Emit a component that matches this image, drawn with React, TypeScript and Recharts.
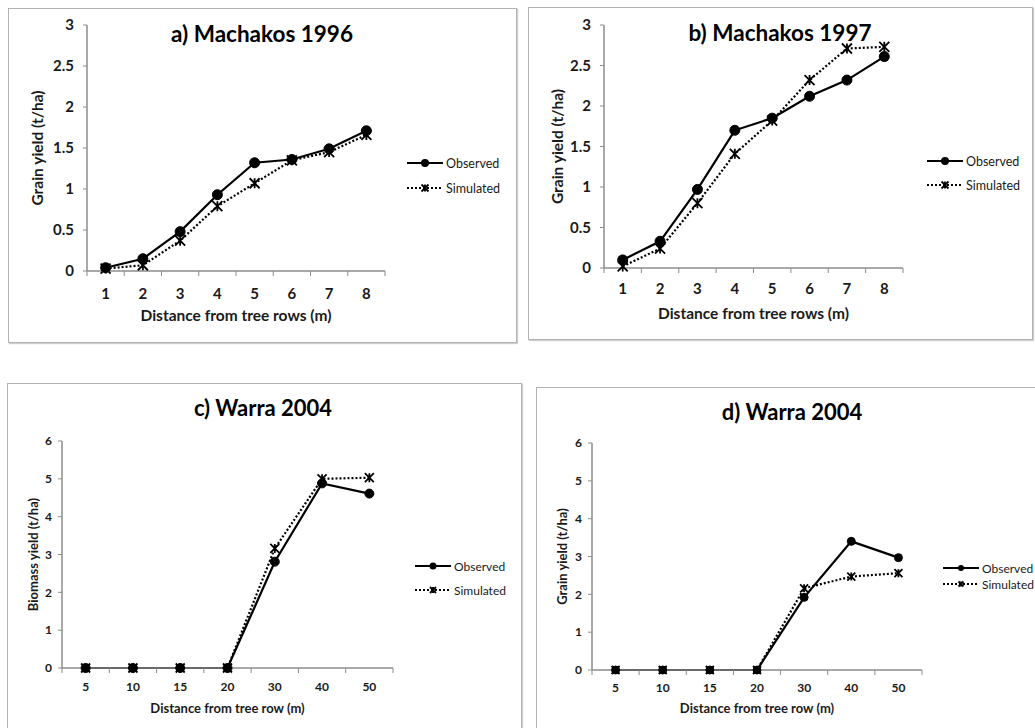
import { LineChart, Line, XAxis, YAxis } from 'recharts';

// distances (category labels)
const rowDistances = ['1', '2', '3', '4', '5', '6', '7', '8'];
const warraDistances = ['5', '10', '15', '20', '30', '40', '50'];

// yields, t/ha
const observed1996 = [0.04, 0.15, 0.48, 0.93, 1.32, 1.36, 1.49, 1.71];
const simulated1996 = [0.03, 0.07, 0.37, 0.79, 1.07, 1.35, 1.45, 1.66];
const observed1997 = [0.1, 0.33, 0.97, 1.7, 1.85, 2.12, 2.32, 2.61];
const simulated1997 = [0.02, 0.24, 0.8, 1.41, 1.82, 2.32, 2.71, 2.73];
const observedBiomass = [0, 0, 0, 0, 2.81, 4.88, 4.61];
const simulatedBiomass = [0, 0, 0, 0, 3.16, 5.0, 5.03];
const observedGrain = [0, 0, 0, 0, 1.92, 3.4, 2.97];
const simulatedGrain = [0, 0, 0, 0, 2.16, 2.47, 2.56];

const grainTicks = [0, 0.5, 1, 1.5, 2, 2.5, 3];
const warraTicks = [0, 1, 2, 3, 4, 5, 6];

const FONT = 'Lato, "Open Sans", sans-serif';
const AXIS = '#8c8c8c';
const INK = '#1a1a1a';

type Box = { left: number; top: number; width: number; height: number };
type Plot = { left: number; top: number; right: number; bottom: number };

type PanelProps = {
  title: string;
  titleAt: [number, number];
  titleSize: number;
  labels: string[];
  observed: number[];
  simulated: number[];
  yTicks: number[];
  yTitle: string;
  xTitle: string;
  box: Box;
  plot: Plot;
  tickSize: number;
  axisTitleSize: number;
  yTickGap: number;
  xTickGap: number;
  xTitleGap: number;
  yTitleGap: number;
  dotR: number;
  legendAt: [number, number];
  legendGap: number;
  legendSize: number;
};

function starPath(cx: number, cy: number, s: number) {
  return `M${cx - s},${cy - s}L${cx + s},${cy + s}M${cx + s},${cy - s}L${cx - s},${cy + s}M${cx},${cy - s}L${cx},${cy + s}`;
}

function LegendIcon({ dotted, r }: { dotted: boolean; r: number }) {
  return (
    <svg width={38} height={12} style={{ display: 'block' }}>
      <line x1={1} y1={6} x2={37} y2={6} stroke="#000" strokeWidth={2} strokeDasharray={dotted ? '2 2' : undefined} />
      {dotted ? (
        <path d={starPath(19, 6, r - 1)} stroke="#000" strokeWidth={1.8} fill="none" />
      ) : (
        <circle cx={19} cy={6} r={r - 0.5} fill="#000" />
      )}
    </svg>
  );
}

function Panel(p: PanelProps) {
  const data = p.labels.map((label, i) => ({
    x: i + 1,
    label,
    observed: p.observed[i],
    simulated: p.simulated[i],
  }));
  const n = p.labels.length;
  // half positions carry the tick marks, whole positions carry the labels
  const xTicks: number[] = [];
  for (let k = 0; k <= n; k++) {
    xTicks.push(k + 0.5);
    if (k < n) xTicks.push(k + 1);
  }
  const { box, plot } = p;
  const chartH = Math.min(box.height, 728 - box.top);

  const XTick = (props: any) => {
    const { x, y, payload } = props;
    const v = payload.value as number;
    if (Number.isInteger(v)) {
      return (
        <text x={x} y={y + p.xTickGap} textAnchor="middle" dominantBaseline="central"
          fontSize={p.tickSize} fontWeight={700} fontFamily={FONT} fill={INK}>
          {p.labels[v - 1]}
        </text>
      );
    }
    return <line x1={x} y1={y} x2={x} y2={y + 5} stroke={AXIS} strokeWidth={1} />;
  };

  const xTitle = (props: any) => {
    const vb = props.viewBox;
    return (
      <text x={vb.x + vb.width / 2} y={vb.y + p.xTitleGap} textAnchor="middle" dominantBaseline="central"
        fontSize={p.axisTitleSize} fontWeight={700} fontFamily={FONT} fill={INK}>
        {p.xTitle}
      </text>
    );
  };

  const yTitle = (props: any) => {
    const vb = props.viewBox;
    const cx = vb.x + vb.width - p.yTitleGap;
    const cy = vb.y + vb.height / 2;
    return (
      <text x={cx} y={cy} transform={`rotate(-90 ${cx} ${cy})`} textAnchor="middle" dominantBaseline="central"
        fontSize={p.axisTitleSize} fontWeight={700} fontFamily={FONT} fill={INK}>
        {p.yTitle}
      </text>
    );
  };

  const starDot = (props: any) => {
    const { cx, cy, index } = props;
    return <path key={`s${index}`} d={starPath(cx, cy, p.dotR)} stroke="#000" strokeWidth={1.8} fill="none" />;
  };

  return (
    <>
      <div
        style={{
          position: 'absolute',
          left: box.left,
          top: box.top,
          width: box.width,
          height: box.height,
          border: '1px solid #b2b2b2',
          boxShadow: '1px 1px 1px #cfcfcf',
          boxSizing: 'border-box',
        }}
      />
      <div style={{ position: 'absolute', left: box.left, top: box.top }}>
        <LineChart
          width={box.width}
          height={chartH}
          data={data}
          margin={{ top: plot.top - box.top, right: box.left + box.width - plot.right, left: 0, bottom: 0 }}
        >
          <XAxis
            type="number"
            dataKey="x"
            domain={[0.5, n + 0.5]}
            ticks={xTicks}
            interval={0}
            tickLine={false}
            tickSize={0}
            tickMargin={0}
            axisLine={{ stroke: AXIS, strokeWidth: 1.5 }}
            tick={XTick}
            height={box.top + chartH - plot.bottom}
            label={{ content: xTitle }}
          />
          <YAxis
            type="number"
            domain={[p.yTicks[0], p.yTicks[p.yTicks.length - 1]]}
            ticks={p.yTicks}
            interval={0}
            width={plot.left - box.left}
            tickSize={4}
            tickMargin={p.yTickGap}
            axisLine={{ stroke: AXIS, strokeWidth: 1.5 }}
            tickLine={{ stroke: AXIS }}
            tick={{ fill: INK, fontSize: p.tickSize, fontWeight: 700, fontFamily: FONT }}
            label={{ content: yTitle }}
          />
          <Line
            type="linear"
            dataKey="simulated"
            stroke="#000"
            strokeWidth={2.2}
            strokeDasharray="2 2"
            dot={starDot}
            isAnimationActive={false}
          />
          <Line
            type="linear"
            dataKey="observed"
            stroke="#000"
            strokeWidth={2.2}
            dot={{ r: p.dotR, fill: '#000', stroke: '#000', strokeWidth: 1 }}
            isAnimationActive={false}
          />
        </LineChart>
      </div>
      <div
        style={{
          position: 'absolute',
          left: p.titleAt[0] - 150,
          top: p.titleAt[1] - p.titleSize * 0.7,
          width: 300,
          textAlign: 'center',
          fontFamily: FONT,
          fontWeight: 700,
          fontSize: p.titleSize,
          lineHeight: `${p.titleSize * 1.4}px`,
          color: '#000',
        }}
      >
        {p.title}
      </div>
      {['Observed', 'Simulated'].map((name, i) => (
        <div
          key={name}
          style={{
            position: 'absolute',
            left: p.legendAt[0],
            top: p.legendAt[1] + i * p.legendGap - 6,
            height: 12,
            display: 'flex',
            alignItems: 'center',
            gap: 2,
            fontFamily: FONT,
            fontSize: p.legendSize,
            color: INK,
            whiteSpace: 'nowrap',
          }}
        >
          <LegendIcon dotted={i === 1} r={p.dotR - 0.5} />
          <span>{name}</span>
        </div>
      ))}
    </>
  );
}

export default function App() {
  return (
    <div
      style={{
        position: 'absolute',
        left: 0,
        top: 0,
        width: 1035,
        height: 728,
        overflow: 'hidden',
        background: '#fff',
      }}
    >
      <Panel
        title="a) Machakos 1996"
        titleAt={[262, 34]}
        titleSize={22.5}
        labels={rowDistances}
        observed={observed1996}
        simulated={simulated1996}
        yTicks={grainTicks}
        yTitle="Grain yield (t/ha)"
        xTitle="Distance from tree rows (m)"
        box={{ left: 8, top: 8, width: 509, height: 335 }}
        plot={{ left: 87, top: 25, right: 385, bottom: 271 }}
        tickSize={15}
        axisTitleSize={15.5}
        yTickGap={9}
        xTickGap={22}
        xTitleGap={44}
        yTitleGap={50}
        dotR={5}
        legendAt={[406, 163]}
        legendGap={25}
        legendSize={12.5}
      />
      <Panel
        title="b) Machakos 1997"
        titleAt={[780, 33]}
        titleSize={22.5}
        labels={rowDistances}
        observed={observed1997}
        simulated={simulated1997}
        yTicks={grainTicks}
        yTitle="Grain yield (t/ha)"
        xTitle="Distance from tree rows (m)"
        box={{ left: 528, top: 7, width: 505, height: 333 }}
        plot={{ left: 604, top: 25, right: 903, bottom: 268 }}
        tickSize={15}
        axisTitleSize={15.5}
        yTickGap={9}
        xTickGap={20}
        xTitleGap={45}
        yTitleGap={47}
        dotR={5}
        legendAt={[926, 161]}
        legendGap={24}
        legendSize={12.5}
      />
      <Panel
        title="c) Warra 2004"
        titleAt={[263, 408]}
        titleSize={22}
        labels={warraDistances}
        observed={observedBiomass}
        simulated={simulatedBiomass}
        yTicks={warraTicks}
        yTitle="Biomass yield (t/ha)"
        xTitle="Distance from tree row (m)"
        box={{ left: 7, top: 383, width: 515, height: 360 }}
        plot={{ left: 62, top: 441, right: 393, bottom: 668 }}
        tickSize={12}
        axisTitleSize={13}
        yTickGap={6}
        xTickGap={18}
        xTitleGap={40}
        yTitleGap={29}
        dotR={4.5}
        legendAt={[414, 566]}
        legendGap={24}
        legendSize={12}
      />
      <Panel
        title="d) Warra 2004"
        titleAt={[792, 412]}
        titleSize={22}
        labels={warraDistances}
        observed={observedGrain}
        simulated={simulatedGrain}
        yTicks={warraTicks}
        yTitle="Grain yield (t/ha)"
        xTitle="Distance from tree row (m)"
        box={{ left: 536, top: 387, width: 510, height: 360 }}
        plot={{ left: 592, top: 443, right: 922, bottom: 670 }}
        tickSize={12}
        axisTitleSize={13}
        yTickGap={6}
        xTickGap={17}
        xTitleGap={38}
        yTitleGap={30}
        dotR={4}
        legendAt={[942, 568]}
        legendGap={16}
        legendSize={12}
      />
    </div>
  );
}
